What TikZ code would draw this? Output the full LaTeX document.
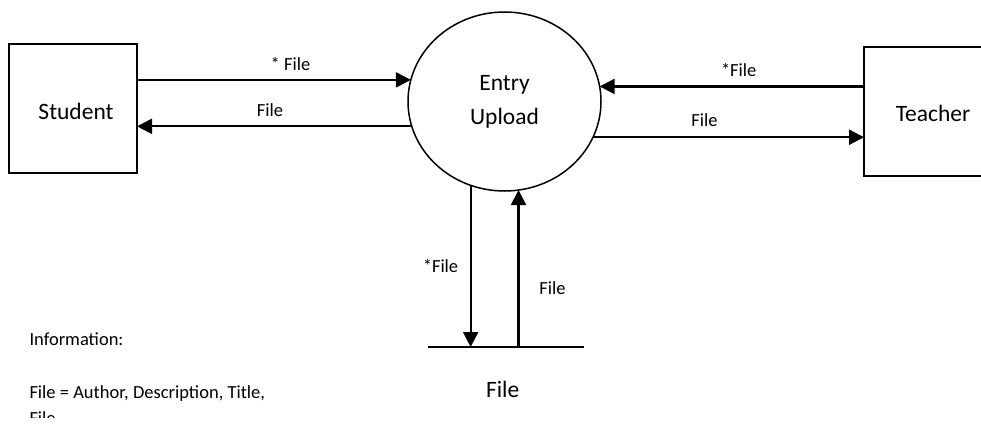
\documentclass[tikz,border=0pt]{standalone}
\usepackage{fontspec}
\setmainfont{Carlito}
\usetikzlibrary{shapes.geometric,arrows.meta}
\begin{document}
\begin{tikzpicture}[x=1pt,y=-1pt,
  entity/.style={draw,line width=1.5pt,rectangle,inner sep=0,outer sep=0},
  proc/.style={draw,line width=1.5pt,ellipse,inner sep=0,outer sep=0,minimum width=193,minimum height=179,align=center,font=\fontsize{23.5}{34}\selectfont},
  flow/.style={line width=2.2pt,-{Triangle[length=15pt,width=15pt]}},
  small/.style={font=\fontsize{18.5}{26.5}\selectfont,inner sep=0,anchor=base},
  big/.style={font=\fontsize{23.5}{28}\selectfont,inner sep=0,anchor=base}]
\useasboundingbox (0,0) rectangle (981,423);
\clip (0,0) rectangle (981,423);
% entities
\node[entity,minimum width=128,minimum height=129] (stu) at (73,108.5) {};
\node[big] (stuT) at (76,119.3) {Student};
\node[entity,minimum width=150,minimum height=129] (tea) at (939,111.5) {};
\node[big] (teaT) at (933,121.7) {Teacher};
% process
\node[proc] (c) at (504.5,101.5) {Entry\\Upload};
% data store
\node[inner sep=0,outer sep=0,minimum width=156,minimum height=0] (store) at (506,347) {};
\draw[line width=1.5pt] (store.west) -- (store.east);
\node[big] (storeT) at (502.7,397.3) {File};
% flows
\draw[flow] (stu.east |- c.167.5) -- (c.167.5);
\draw[flow] (c.195.4) -- (stu.east |- c.195.4);
\draw[flow] (tea.west |- c.9.26) -- (c.9.26);
\draw[flow] (c.338.8) -- (tea.west |- c.338.8);
\draw[flow] (c.248.9) -- (c.248.9 |- store.center);
\draw[flow] (c.279.96 |- store.center) -- (c.279.96);
% flow labels
\node[small] (l1) at (290.5,70) {* File};
\node[small] (l2) at (270,116.7) {File};
\node[small] (l3) at (738.7,76.7) {*File};
\node[small] (l4) at (704.4,126) {File};
\node[small] (l5) at (440.5,272.7) {*File};
\node[small] (l6) at (552.5,294) {File};
% information
\node[small,anchor=base west] (info) at (29.3,345.7) {Information:};
\node[small,anchor=base west] (def1) at (29.3,398.7) {File = Author, Description, Title,};
\begin{scope}
\clip (0,0) rectangle (981,417);
\node[small,anchor=base west] (def2) at (29.3,424) {File};
\end{scope}
\end{tikzpicture}
\end{document}
